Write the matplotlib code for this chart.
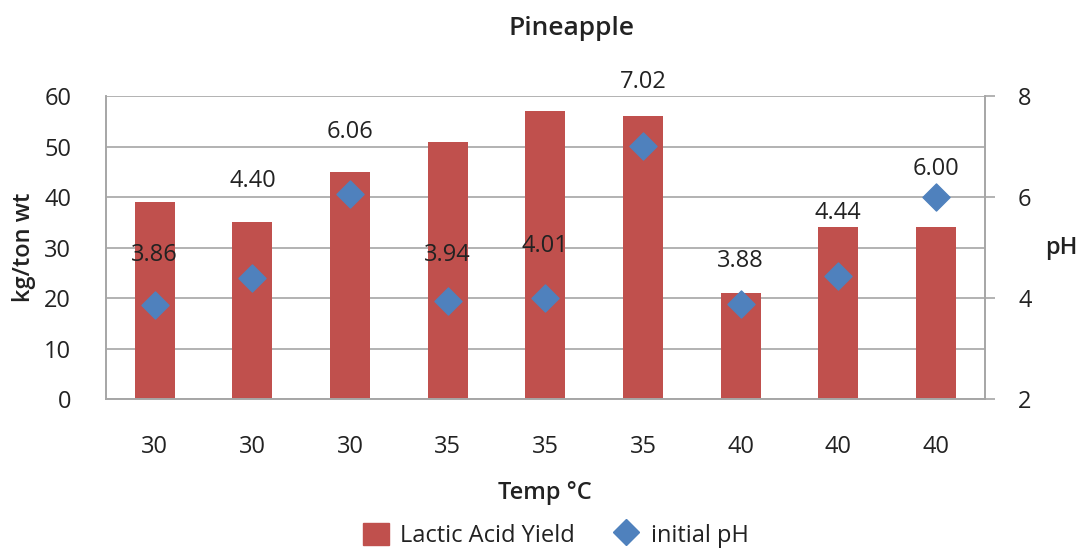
import matplotlib.pyplot as plt
from matplotlib.lines import Line2D
from matplotlib.patches import Patch

plt.rcParams['font.family'] = ['Open Sans', 'DejaVu Sans']

temps = ['30', '30', '30', '35', '35', '35', '40', '40', '40']
yield_vals = [39, 35, 45, 51, 57, 56, 21, 34, 34]
ph_vals = [3.86, 4.40, 6.06, 3.94, 4.01, 7.02, 3.88, 4.44, 6.00]
# vertical shift of each pH label above its marker (points)
label_lift = [36, 70, 45, 33, 37, 46, 31, 45, 20]

bar_color = '#C0504D'
pt_color = '#4F81BD'
grid_color = '#A6A6A6'
text_color = '#222222'
fs = 17

fig = plt.figure(figsize=(10.81, 5.49), dpi=100)
ax = fig.add_axes([0.098, 0.273, 0.813, 0.552])
ax2 = ax.twinx()

x = list(range(len(temps)))
ax.bar(x, yield_vals, width=0.41, color=bar_color, zorder=2)
ax.set_xlim(-0.5, len(temps) - 0.5)
ax.set_ylim(0, 60)
ax.set_yticks(range(0, 61, 10))
ax.grid(axis='y', color=grid_color, linewidth=1.2, zorder=0)
ax.set_axisbelow(True)
ax.set_xticks(x)
ax.set_xticklabels(temps)
ax.tick_params(axis='x', length=0, pad=26, labelsize=fs, colors=text_color)
ax.tick_params(axis='y', length=0, pad=25, labelsize=fs, colors=text_color)

ax2.scatter(x, ph_vals, marker='D', s=190, color=pt_color, zorder=3)
ax2.set_ylim(2, 8)
ax2.set_yticks([2, 4, 6, 8])
ax2.tick_params(axis='y', length=7, width=1.2, pad=17, labelsize=fs, labelcolor=text_color,
                color=grid_color)
for xi, v, lift in zip(x, ph_vals, label_lift):
    ax2.annotate(f'{v:.2f}', (xi, v), xytext=(0, lift), textcoords='offset points',
                 ha='center', va='center', fontsize=fs, color=text_color)

for a in (ax, ax2):
    a.spines['top'].set_visible(False)
    for side in ('left', 'right', 'bottom'):
        a.spines[side].set_color(grid_color)
        a.spines[side].set_linewidth(1.2)

ax.set_title('Pineapple', fontsize=19, fontweight='semibold', pad=44, color=text_color, x=0.53)
ax.set_xlabel('Temp °C', fontsize=fs, fontweight='semibold', labelpad=16, color=text_color)
ax.set_ylabel('kg/ton wt', fontsize=fs, fontweight='semibold', labelpad=6, color=text_color)
ax2.set_ylabel('pH', fontsize=fs, fontweight='semibold', rotation=0, labelpad=10,
               ha='left', va='center', color=text_color)

handles = [Patch(color=bar_color, label='Lactic Acid Yield'),
           Line2D([], [], marker='D', color=pt_color, linestyle='none', markersize=13,
                  label='initial pH')]
fig.legend(handles=handles, loc='center', bbox_to_anchor=(0.514, 0.025), ncol=2,
           frameon=False, fontsize=fs, handlelength=1.1, handleheight=1.1,
           columnspacing=1.6, handletextpad=0.5, labelcolor=text_color)

fig.savefig('out.png', dpi=100)
